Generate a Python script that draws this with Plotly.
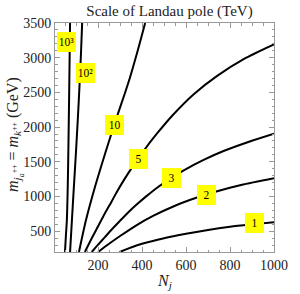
import plotly.graph_objects as go

# Curves: Landau pole scale contours (TeV)
n_1 = [298, 350, 400, 500, 600, 700, 800, 900, 1000]
m_1 = [200, 265, 318, 398, 462, 518, 563, 598, 630]

n_2 = [200, 250, 300, 374, 450, 550, 650, 750, 850, 1000]
m_2 = [200, 318, 430, 585, 720, 867, 985, 1082, 1165, 1262]

n_3 = [171, 200, 230, 261, 300, 340, 374, 420, 470, 535, 600, 680, 765, 880, 1000]
m_3 = [200, 305, 410, 520, 650, 780, 880, 1005, 1130, 1268, 1395, 1527, 1648, 1782, 1905]

n_5 = [140, 170, 200, 230, 261, 287, 320, 360, 410, 470, 540, 635, 740, 860, 1000]
m_5 = [200, 390, 570, 750, 925, 1075, 1250, 1445, 1670, 1915, 2175, 2475, 2735, 2975, 3190]

n_10 = [113, 145, 186, 232, 260, 290, 320, 345, 380, 414]
m_10 = [200, 660, 1140, 1620, 1900, 2190, 2470, 2715, 3100, 3500]

n_100 = [72.5, 81, 89.8, 99, 107.5, 115.5, 122, 127.5]
m_100 = [200, 661, 1137, 1620, 2102, 2600, 3050, 3500]

n_1000 = [49.3, 53.5, 58, 61, 63.5, 66.7, 68.5, 70.5, 72.5]
m_1000 = [200, 430, 661, 1000, 1400, 2102, 2500, 3000, 3500]

curves = [(n_1, m_1), (n_2, m_2), (n_3, m_3), (n_5, m_5),
          (n_10, m_10), (n_100, m_100), (n_1000, m_1000)]

# Contour labels
label_text = ["1", "2", "3", "5", "10", "10²", "10³"]
label_n = [910, 691, 533, 385, 274, 141, 56]
label_m = [614, 1021, 1262, 1537, 2030, 2775, 3231]

x_ticks = [200, 400, 600, 800, 1000]
y_ticks = [500, 1000, 1500, 2000, 2500, 3000, 3500]

SERIF = "Liberation Serif"
FRAME = "#999999"
TXT = "#222222"

fig = go.Figure()
for n, m in curves:
    fig.add_trace(go.Scatter(x=n, y=m, mode="lines",
                             line=dict(color="black", width=2, shape="spline", smoothing=0.8),
                             showlegend=False, hoverinfo="skip"))

for t, xn, ym in zip(label_text, label_n, label_m):
    fig.add_annotation(x=xn, y=ym, xref="x", yref="y", text=t, showarrow=False,
                       xanchor="center", yanchor="middle",
                       bgcolor="#FFFF00", borderpad=1, borderwidth=0,
                       width=17, height=18,
                       font=dict(family=SERIF, size=11.5, color="black"))

# y-axis title as rotated annotation
fig.add_annotation(xref="paper", yref="paper", x=-0.183, y=0.489, showarrow=False,
                   textangle=-90, xanchor="center", yanchor="middle", yshift=6,
                   text="<i>m</i><sub><i>j<sub>a</sub></i><sup>++</sup></sub>&nbsp;=&nbsp;<i>m</i><sub><i>k</i><sup>++</sup></sub>&nbsp;(GeV)",
                   font=dict(family=SERIF, size=16, color=TXT))

# x-axis title
fig.add_annotation(xref="paper", yref="paper", x=0.5, y=-0.131, showarrow=False,
                   xanchor="center", yanchor="middle",
                   text="<i>N<sub>j</sub></i>",
                   font=dict(family=SERIF, size=16, color=TXT))

axis_common = dict(showline=True, linecolor=FRAME, linewidth=1, mirror="allticks",
                   ticks="inside", ticklen=5, tickcolor=FRAME, showgrid=False,
                   zeroline=False,
                   tickfont=dict(family=SERIF, size=14, color=TXT))

fig.update_xaxes(range=[4, 1000], tickvals=x_ticks,
                 minor=dict(ticks="inside", ticklen=2.5, tickcolor=FRAME, dtick=50, tick0=0),
                 **axis_common)
fig.update_yaxes(range=[200, 3500], tickvals=y_ticks,
                 minor=dict(ticks="inside", ticklen=2.5, tickcolor=FRAME, dtick=100, tick0=0),
                 **axis_common)

fig.update_layout(
    width=300, height=294,
    margin=dict(l=55, r=16, t=23, b=42),
    paper_bgcolor="white", plot_bgcolor="white",
    hovermode=False,
    title=dict(text="Scale of Landau pole (TeV)", x=0.565, xanchor="center", y=0.963, yanchor="middle",
               font=dict(family=SERIF, size=15, color=TXT)),
)

fig.write_html("out.html", config={"displayModeBar": False},
               post_script="document.body.style.margin='0';document.body.style.padding='0';")
